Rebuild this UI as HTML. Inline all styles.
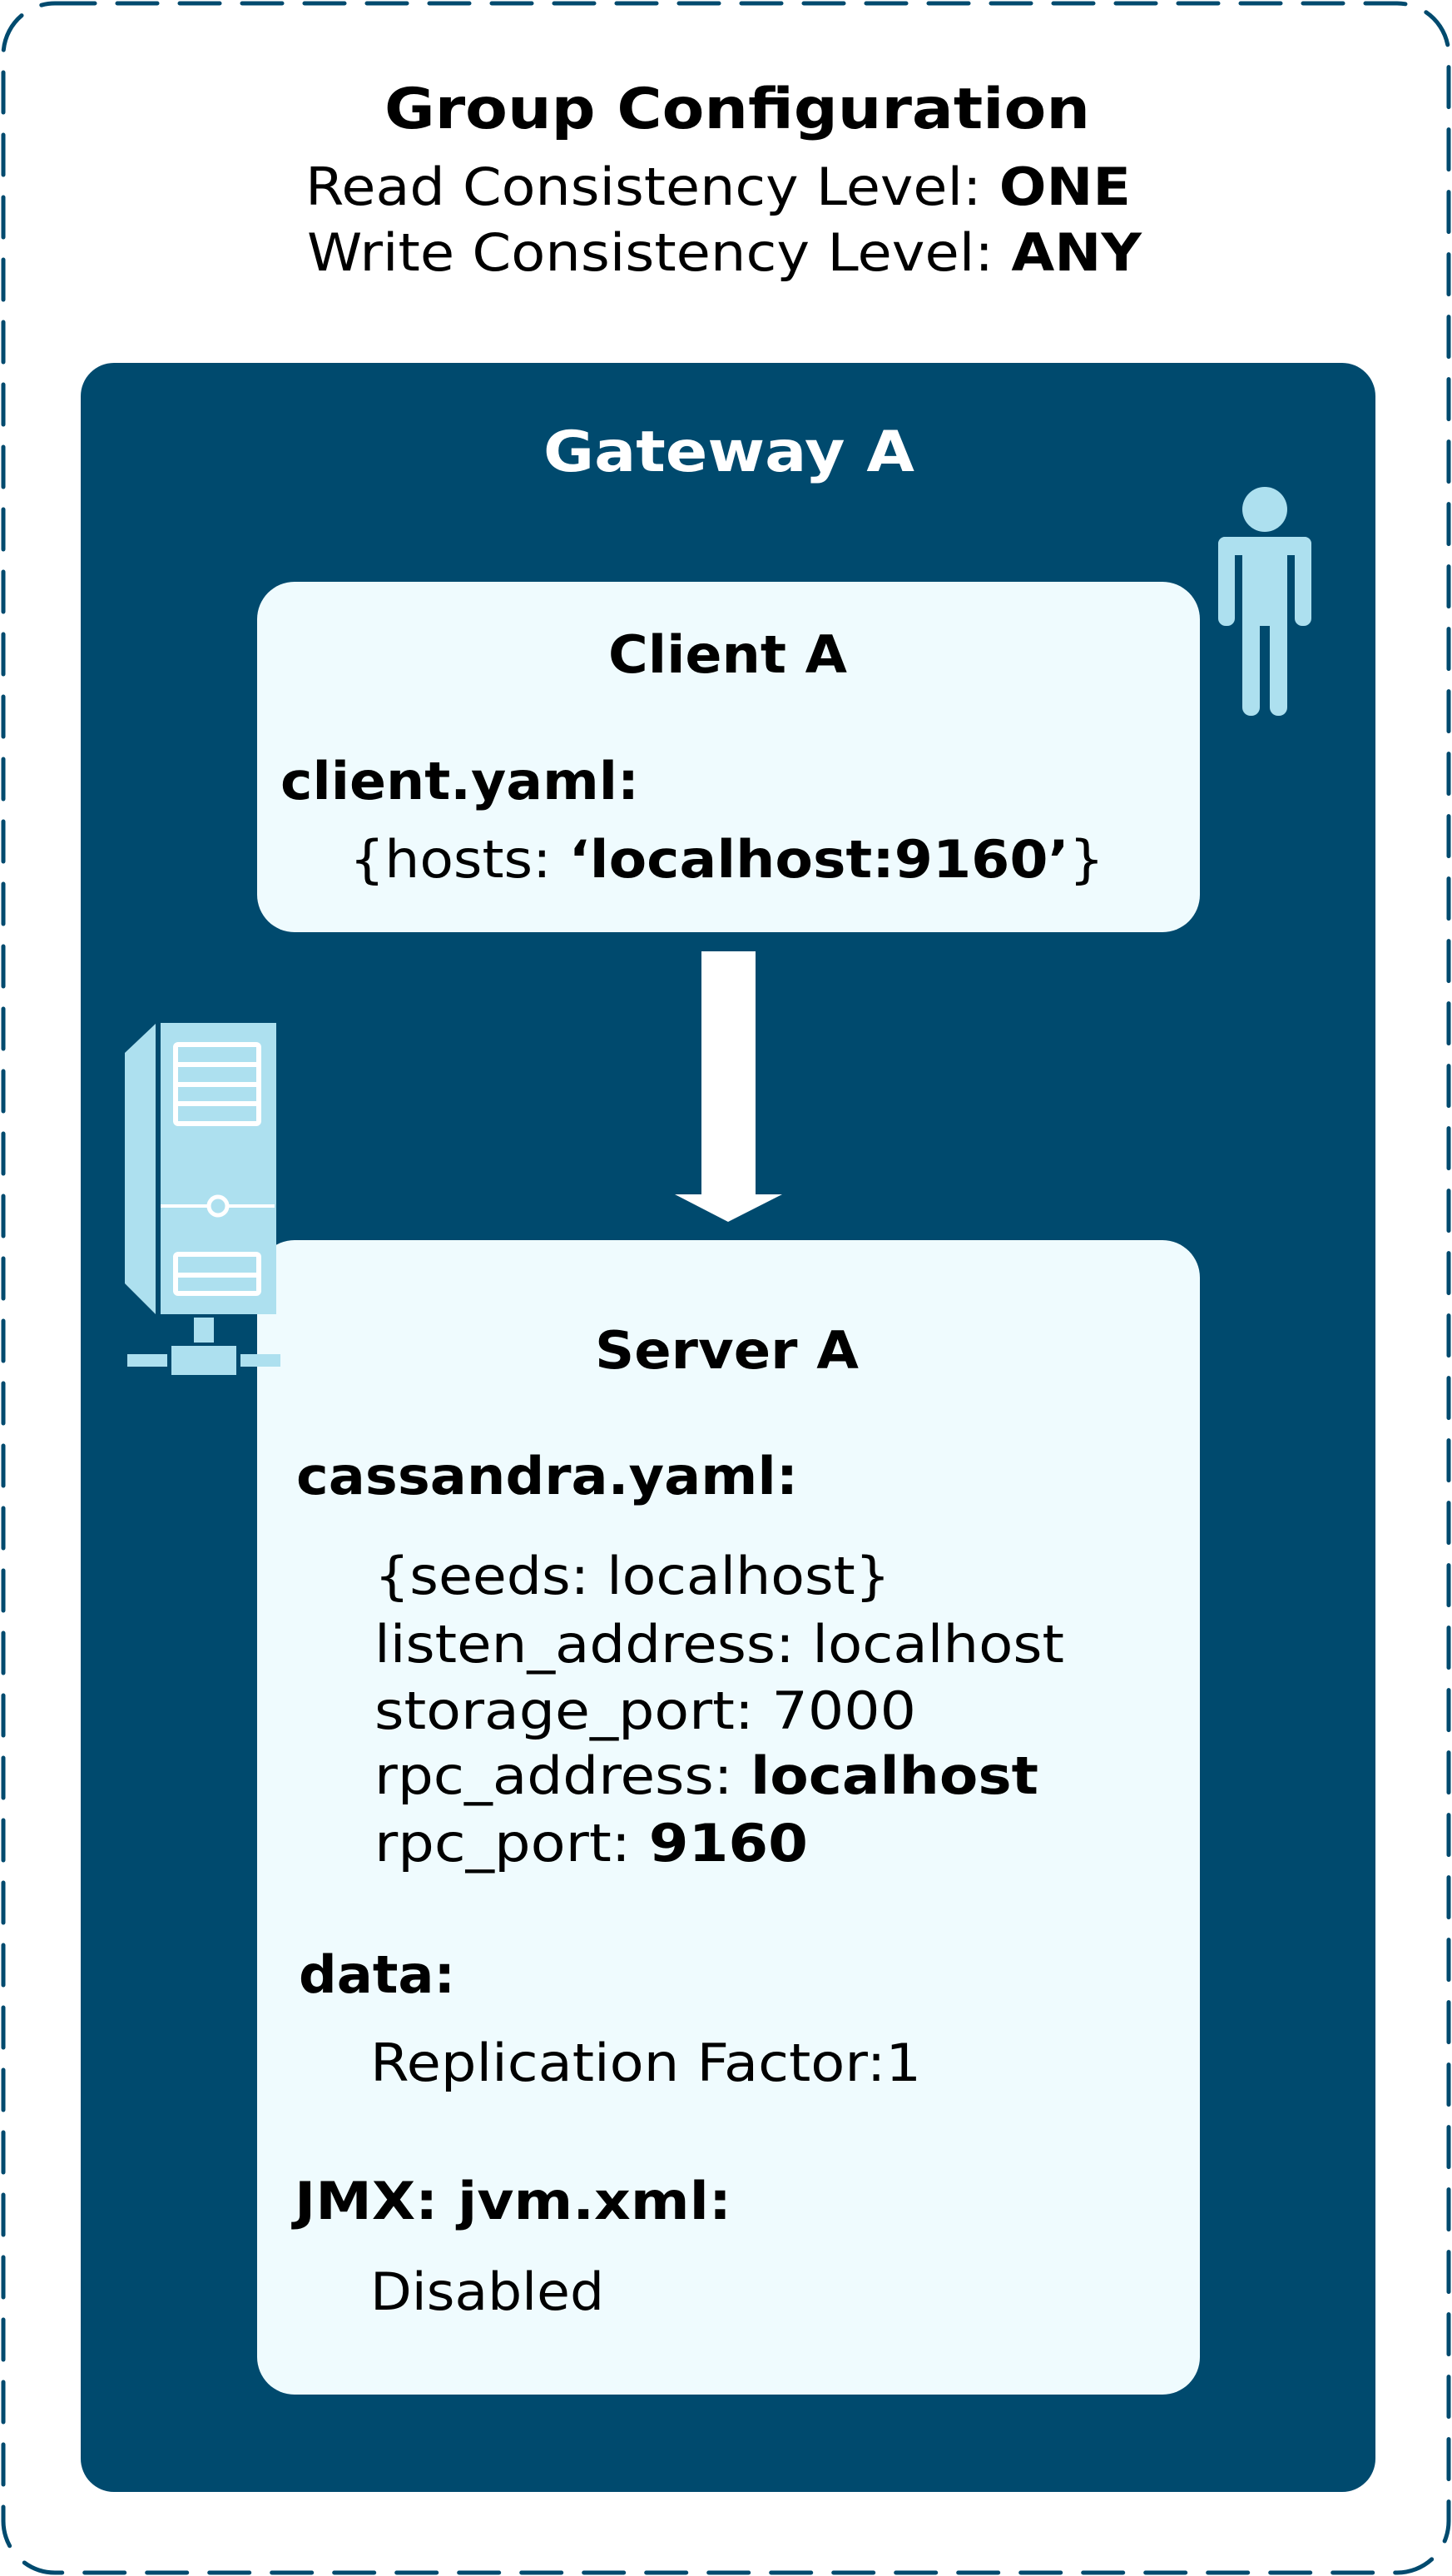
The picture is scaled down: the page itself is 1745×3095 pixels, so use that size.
<!DOCTYPE html>
<html><head><meta charset="utf-8"><style>html,body{margin:0;padding:0;background:#fff}svg{display:block}</style></head>
<body>
<svg width="1745" height="3095" viewBox="0 0 1745 3095" xmlns="http://www.w3.org/2000/svg" font-family="'DejaVu Sans','Liberation Sans',sans-serif">
<rect x="4" y="4" width="1737" height="3087" rx="62" fill="#fff" stroke="#004a6e" stroke-width="5" stroke-dasharray="48 27" stroke-linecap="round"/>
<text x="462" y="154" font-size="68" font-weight="bold" fill="#000" textLength="848" lengthAdjust="spacingAndGlyphs">Group Configuration</text>
<text x="367" y="246" font-size="62" fill="#000" textLength="992" lengthAdjust="spacingAndGlyphs">Read Consistency Level: <tspan font-weight="bold">ONE</tspan></text>
<text x="369" y="325" font-size="62" fill="#000" textLength="1003" lengthAdjust="spacingAndGlyphs">Write Consistency Level: <tspan font-weight="bold">ANY</tspan></text>
<rect x="97" y="436" width="1556" height="2558" rx="40" fill="#004a6e"/>
<text x="653" y="566" font-size="68" font-weight="bold" fill="#fff" textLength="446" lengthAdjust="spacingAndGlyphs">Gateway A</text>
<!-- person -->
<g fill="#ade0ef">
<circle cx="1520" cy="612" r="27"/>
<rect x="1464" y="645" width="112" height="22" rx="8"/>
<rect x="1464" y="645" width="20" height="107" rx="9"/>
<rect x="1556" y="645" width="20" height="107" rx="9"/>
<rect x="1493" y="645" width="54" height="107"/>
<rect x="1493" y="700" width="21" height="160" rx="10"/>
<rect x="1526" y="700" width="21" height="160" rx="10"/>
</g>
<rect x="309" y="699" width="1133" height="421" rx="45" fill="#effbfe"/>
<text x="731" y="808" font-size="62" font-weight="bold" fill="#000" textLength="287" lengthAdjust="spacingAndGlyphs">Client A</text>
<text x="337" y="960" font-size="62" font-weight="bold" fill="#000" textLength="431" lengthAdjust="spacingAndGlyphs">client.yaml:</text>
<text x="420" y="1054" font-size="62" fill="#000" textLength="907" lengthAdjust="spacingAndGlyphs">{hosts: <tspan font-weight="bold">‘localhost:9160’</tspan>}</text>
<!-- arrow -->
<polygon points="843,1143 908,1143 908,1435 940,1435 875,1468 811,1435 843,1435" fill="#fff"/>
<rect x="309" y="1490" width="1133" height="1387" rx="45" fill="#effbfe"/>
<!-- server icon -->
<g fill="#ade0ef">
<polygon points="150,1265 187,1230 187,1579 150,1542"/>
<rect x="193" y="1229" width="139" height="350"/>
<rect x="233" y="1583" width="24" height="30"/>
<rect x="206" y="1617" width="78" height="35"/>
<rect x="153" y="1627" width="48" height="15"/>
<rect x="289" y="1627" width="48" height="15"/>
</g>
<g fill="none" stroke="#fff" stroke-width="6" stroke-linejoin="round">
<rect x="211" y="1255" width="100" height="95" rx="3"/>
<line x1="211" y1="1279" x2="311" y2="1279"/>
<line x1="211" y1="1303" x2="311" y2="1303"/>
<line x1="211" y1="1326" x2="311" y2="1326"/>
<rect x="211" y="1507" width="100" height="47" rx="3"/>
<line x1="211" y1="1532" x2="311" y2="1532"/>
<line x1="193" y1="1449" x2="250" y2="1449" stroke-width="4"/>
<line x1="274" y1="1449" x2="330" y2="1449" stroke-width="4"/>
<circle cx="262" cy="1449" r="11" stroke-width="5"/>
</g>
<text x="715" y="1644" font-size="62" font-weight="bold" fill="#000" textLength="317" lengthAdjust="spacingAndGlyphs">Server A</text>
<text x="356" y="1795" font-size="62" font-weight="bold" fill="#000" textLength="603" lengthAdjust="spacingAndGlyphs">cassandra.yaml:</text>
<g font-size="62" fill="#000">
<text x="450" y="1915" textLength="620" lengthAdjust="spacingAndGlyphs">{seeds: localhost}</text>
<text x="450" y="1997" textLength="829" lengthAdjust="spacingAndGlyphs">listen_address: localhost</text>
<text x="450" y="2077" textLength="651" lengthAdjust="spacingAndGlyphs">storage_port: 7000</text>
<text x="450" y="2155" textLength="798" lengthAdjust="spacingAndGlyphs">rpc_address: <tspan font-weight="bold">localhost</tspan></text>
<text x="450" y="2236" textLength="521" lengthAdjust="spacingAndGlyphs">rpc_port: <tspan font-weight="bold">9160</tspan></text>
<text x="359" y="2394" font-weight="bold" textLength="188" lengthAdjust="spacingAndGlyphs">data:</text>
<text x="445" y="2500" textLength="662" lengthAdjust="spacingAndGlyphs">Replication Factor:1</text>
<text x="354" y="2666" font-weight="bold" textLength="525" lengthAdjust="spacingAndGlyphs">JMX: jvm.xml:</text>
<text x="445" y="2775" textLength="281" lengthAdjust="spacingAndGlyphs">Disabled</text>
</g>
</svg>
</body></html>
